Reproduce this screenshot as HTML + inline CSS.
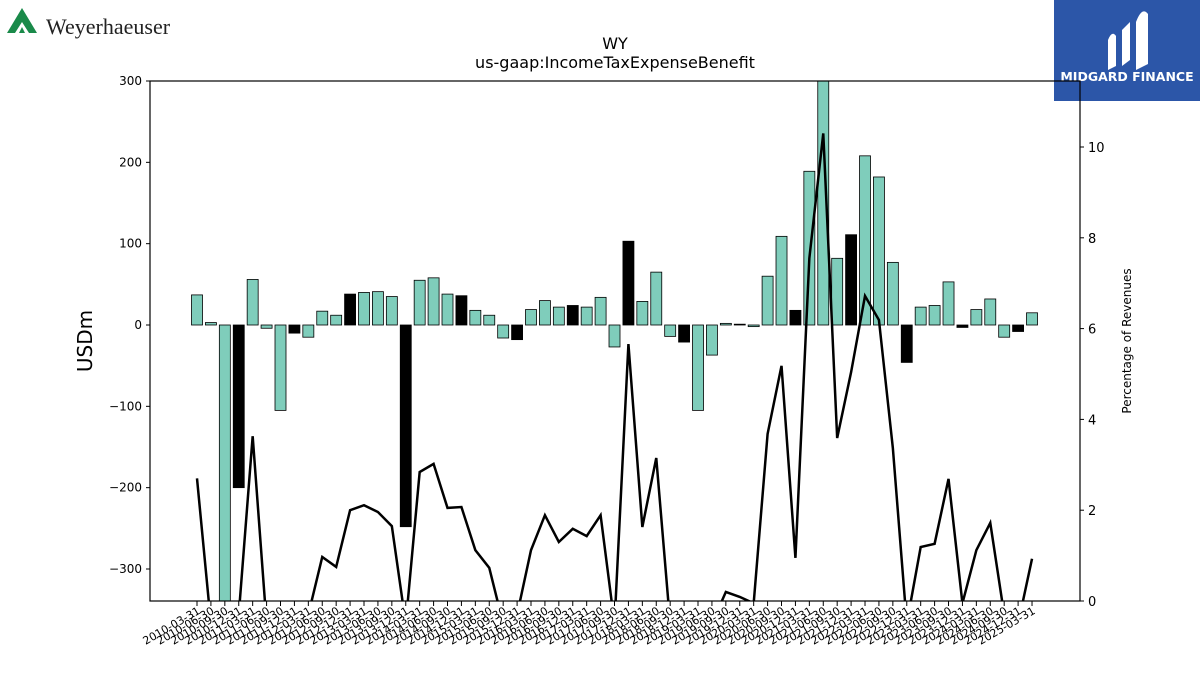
<!DOCTYPE html>
<html><head><meta charset="utf-8"><style>
body{margin:0;background:#fff;font-family:"Liberation Sans","DejaVu Sans",sans-serif;}
svg text{font-family:"DejaVu Sans","Liberation Sans",sans-serif;}
</style></head><body>
<svg id="chart" width="1200" height="675" xmlns="http://www.w3.org/2000/svg">
<g>
<polygon points="7,33 22,8 37,33 29,33 22,22 15,33" fill="#1a8a4a"/>
<polygon points="19,33 22,27 25,33" fill="#1a8a4a"/>
<text x="46" y="34" font-size="22" font-family="Liberation Serif, serif" style="font-family:'Liberation Serif',serif" fill="#222">Weyerhaeuser</text>
</g>
<g>
<rect x="1054" y="0" width="146" height="101" fill="#2c56a8"/>
<path d="M1108,70 L1108,40 Q1112,30 1116,36 L1116,66 Z M1122,66 L1122,30 L1130,22 L1130,60 Z M1136,70 L1136,22 Q1142,6 1148,14 L1148,64 Z" fill="#fff"/>
<text x="1127" y="81" font-size="12.5" font-weight="bold" fill="#fff" text-anchor="middle">MIDGARD FINANCE</text>
</g>
<text x="615" y="49" font-size="16" text-anchor="middle">WY</text>
<text x="615" y="68" font-size="16" text-anchor="middle">us-gaap:IncomeTaxExpenseBenefit</text>
<text transform="translate(92,341) rotate(-90)" font-size="20" text-anchor="middle">USDm</text>
<text transform="translate(1131,341) rotate(-90)" font-size="12" text-anchor="middle">Percentage of Revenues</text>
<defs><clipPath id="plotclip"><rect x="150" y="81" width="930" height="520"/></clipPath></defs>
<g id="bars" clip-path="url(#plotclip)"></g>
<g id="line" clip-path="url(#plotclip)"></g>
<g id="axes"></g>
</svg>
<script>
const barValues=[37,3,-400,-200,56,-4,-105,-10,-15,17,12,38,40,41,35,-248,55,58,38,36,18,12,-16,-18,19,30,22,24,22,34,-27,103,29,65,-14,-21,-105,-37,2,1,-2,60,109,18,189,310,82,111,208,182,77,-46,22,24,53,-3,19,32,-15,-8,15];
const pctValues=[2.7,-0.5,-1,-0.3,3.63,-0.5,-1,-1,-0.3,0.97,0.75,2.0,2.11,1.96,1.65,-0.5,2.84,3.02,2.05,2.07,1.12,0.73,-0.5,-0.3,1.12,1.89,1.3,1.59,1.43,1.89,-0.5,5.66,1.63,3.15,-0.5,-1,-1,-0.5,0.2,0.09,-0.05,3.68,5.18,0.95,7.55,10.3,3.59,5.04,6.72,6.19,3.37,-0.5,1.19,1.26,2.69,-0.05,1.12,1.72,-0.3,-0.5,0.93];
const leftTicks=[-300,-200,-100,0,100,200,300];
const rightTicks=[0,2,4,6,8,10];
const labels=[];
for(let y=2010;y<=2025;y++){for(const d of ["03-31","06-30","09-30","12-31"]){labels.push(y+"-"+d);}}
labels.length=barValues.length;
const NS="http://www.w3.org/2000/svg";
const L=150,R=1080,T=81,B=601;
const yL=v=>325-v*0.8133;
const yR=v=>601-v*45.4;
const xS=i=>197+i*13.917;
function mk(t,a,p){const e=document.createElementNS(NS,t);for(const k in a)e.setAttribute(k,a[k]);p.appendChild(e);return e;}
const gb=document.getElementById('bars');
barValues.forEach((v,i)=>{
 const y0=yL(0),y1=yL(v);
 const r=mk('rect',{x:xS(i)-5.5,y:Math.min(y0,y1),width:11,height:Math.abs(y1-y0),fill:(i%4==3)?'#000':'#7fcdbb',stroke:'#000','stroke-width':0.8},gb);
 
 
});
const gl=document.getElementById('line');
const pl=mk('polyline',{points:pctValues.map((v,i)=>xS(i)+','+yR(v)).join(' '),fill:'none',stroke:'#000','stroke-width':2.5},gl);


const ga=document.getElementById('axes');
const fr=mk('rect',{x:L,y:T,width:R-L,height:B-T,fill:'none',stroke:'#000','stroke-width':1.2},ga);


leftTicks.forEach(v=>{
 mk('line',{x1:L-4,x2:L,y1:yL(v),y2:yL(v),stroke:'#000'},ga);
 const t=mk('text',{x:L-8,y:yL(v)+4,'font-size':12,'text-anchor':'end'},ga);t.textContent=v<0?'\u2212'+(-v):v;
 
 
});
rightTicks.forEach(v=>{
 mk('line',{x1:R,x2:R+4,y1:yR(v),y2:yR(v),stroke:'#000'},ga);
 const t=mk('text',{x:R+8,y:yR(v)+5,'font-size':13},ga);t.textContent=v;
 
 
});
labels.forEach((s,i)=>{
 mk('line',{x1:xS(i),x2:xS(i),y1:B,y2:B+5,stroke:'#000'},ga);
 const t=mk('text',{transform:'translate('+(xS(i)+4)+','+(B+12)+') rotate(-30)','font-size':11,'text-anchor':'end'},ga);t.textContent=s;
 
 
});
</script>
</body></html>
